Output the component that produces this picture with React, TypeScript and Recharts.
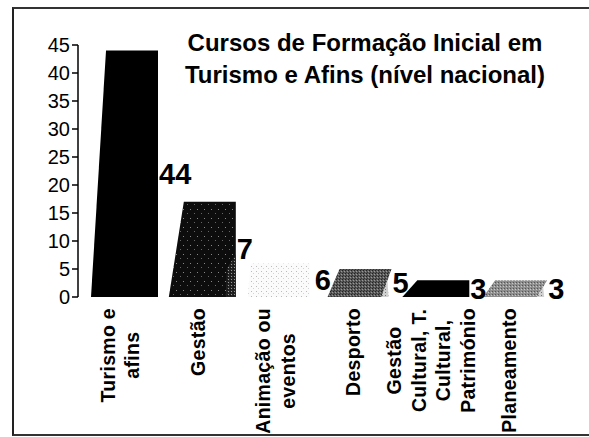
import { Bar, BarChart, LabelList, XAxis, YAxis } from 'recharts'

const categories = [
  'Turismo e\nafins',
  'Gestão',
  'Animação ou\neventos',
  'Desporto',
  'Gestão\nCultural, T.\nCultural,\nPatrimónio',
  'Planeamento',
]

const courseCounts = [44, 17, 6, 5, 3, 3]

// labels as printed next to each bar (the "1" of 17 sits behind the bar)
const valueLabels = ['44', '7', '6', '5', '3', '3']

const yTicks = [0, 5, 10, 15, 20, 25, 30, 35, 40, 45]

const data = categories.map((name, i) => ({
  name,
  count: courseCounts[i],
  label: valueLabels[i],
}))

const FONT = '"Liberation Sans", Arial, sans-serif'
const CAT_FONT_SIZE = 19.5
const CAT_SPACING = 0.3

// how each bar is drawn: shape type, fill pattern, lighter corner
const BAR_STYLES = [
  { kind: 'trap', fill: '#000', corner: null },
  { kind: 'trap', fill: 'url(#speckDark)', corner: 'url(#speckGrey)' },
  { kind: 'pale', fill: 'url(#speckLight)', corner: null },
  { kind: 'para', fill: 'url(#stippleMid)', corner: 'url(#speckPale)' },
  { kind: 'trap', fill: '#000', corner: null },
  { kind: 'para', fill: 'url(#stippleLight)', corner: 'url(#speckPale)' },
]

let measureCtx: CanvasRenderingContext2D | null = null
function measure(text: string): number {
  if (!measureCtx) {
    measureCtx = document.createElement('canvas').getContext('2d')
  }
  if (!measureCtx) return text.length * 10
  measureCtx.font = `bold ${CAT_FONT_SIZE}px ${FONT}`
  return measureCtx.measureText(text).width + text.length * CAT_SPACING
}

function BarShape(props: any) {
  const { x, y, width, height, index } = props
  const style = BAR_STYLES[index]
  const b = y + height
  if (style.kind === 'trap') {
    return (
      <g>
        <polygon
          points={`${x + 10},${b} ${x + 25},${y} ${x + 77},${y} ${x + 77},${b}`}
          fill={style.fill}
        />
        {style.corner && (
          <polygon
            points={`${x + 67},${b} ${x + 68},${y + height * 0.7} ${x + 77},${y + height * 0.55} ${x + 77},${b}`}
            fill={style.corner}
          />
        )}
      </g>
    )
  }
  if (style.kind === 'pale') {
    return (
      <polygon
        points={`${x + 11},${b} ${x + 14},${y} ${x + 73},${y} ${x + 73},${b}`}
        fill={style.fill}
      />
    )
  }
  return (
    <g>
      <polygon
        points={`${x + 13},${b} ${x + 25},${y} ${x + 77},${y} ${x + 67},${b}`}
        fill={style.fill}
      />
      <polygon
        points={`${x + 67},${b} ${x + 73},${y + height * 0.4} ${x + 74},${b}`}
        fill={style.corner}
      />
    </g>
  )
}

function ValueLabel(props: any) {
  const { x, y, height, value } = props
  return (
    <text
      x={x + 78}
      y={y + height / 2}
      dominantBaseline="central"
      fontFamily={FONT}
      fontWeight="bold"
      fontSize={29}
      fill="#000"
    >
      {value}
    </text>
  )
}

function CategoryTick(props: any) {
  const { x, y, payload } = props
  const lines: string[] = String(payload.value).split('\n')
  const maxW = Math.max(...lines.map(measure))
  const centerY = y + 3 + maxW / 2
  return (
    <g>
      {lines.map((line, j) => {
        const cx = x + (j - (lines.length - 1) / 2) * 24.5
        return (
          <text
            key={j}
            x={cx}
            y={centerY}
            transform={`rotate(-90, ${cx}, ${centerY})`}
            textAnchor="middle"
            dominantBaseline="central"
            fontFamily={FONT}
            fontWeight="bold"
            fontSize={CAT_FONT_SIZE}
            letterSpacing={CAT_SPACING}
            fill="#000"
          >
            {line}
          </text>
        )
      })}
    </g>
  )
}

export default function App() {
  return (
    <div style={{ position: 'relative', width: 589, height: 437, overflow: 'hidden', background: '#fff' }}>
      <style>{'body{margin:0}'}</style>
      <div
        style={{
          position: 'absolute',
          left: 12,
          top: 7,
          width: 620,
          height: 425,
          borderLeft: '2px solid #222',
          borderTop: '2px solid #333',
          borderBottom: '2px solid #333',
        }}
      />
      <BarChart
        width={589}
        height={437}
        data={data}
        margin={{ top: 45, right: 41, bottom: 10, left: 0 }}
        barCategoryGap={0}
        style={{ position: 'absolute', left: 0, top: 0 }}
      >
        <defs>
          <pattern id="speckDark" width="7" height="9" patternUnits="userSpaceOnUse">
            <rect width="7" height="9" fill="#0d0d0d" />
            <rect x="1" y="2" width="1" height="1" fill="#888" />
            <rect x="5" y="6" width="1" height="1" fill="#666" />
          </pattern>
          <pattern id="speckGrey" width="3" height="3" patternUnits="userSpaceOnUse">
            <rect width="3" height="3" fill="#222" />
            <rect x="0" y="0" width="1" height="1" fill="#999" />
            <rect x="2" y="1" width="1" height="1" fill="#111" />
          </pattern>
          <pattern id="speckLight" width="5" height="5" patternUnits="userSpaceOnUse">
            <rect width="5" height="5" fill="#fbfbfb" />
            <rect x="1" y="1" width="1" height="1" fill="#bbb" />
            <rect x="3" y="3" width="1" height="1" fill="#d4d4d4" />
          </pattern>
          <pattern id="stippleMid" width="3" height="3" patternUnits="userSpaceOnUse">
            <rect width="3" height="3" fill="#5a5a5a" />
            <rect x="0" y="0" width="1" height="1" fill="#222" />
            <rect x="2" y="1" width="1" height="1" fill="#999" />
            <rect x="1" y="2" width="1" height="1" fill="#333" />
          </pattern>
          <pattern id="stippleLight" width="3" height="3" patternUnits="userSpaceOnUse">
            <rect width="3" height="3" fill="#8e8e8e" />
            <rect x="0" y="0" width="1" height="1" fill="#555" />
            <rect x="2" y="1" width="1" height="1" fill="#c8c8c8" />
          </pattern>
          <pattern id="speckPale" width="3" height="3" patternUnits="userSpaceOnUse">
            <rect width="3" height="3" fill="#d0d0d0" />
            <rect x="1" y="1" width="1" height="1" fill="#777" />
          </pattern>
        </defs>
        <XAxis
          dataKey="name"
          axisLine={false}
          tickLine={false}
          interval={0}
          height={130}
          padding={{ left: 3, right: 0 }}
          tick={<CategoryTick />}
        />
        <YAxis
          domain={[0, 45]}
          ticks={yTicks}
          interval={0}
          width={78}
          axisLine={{ stroke: '#000', strokeWidth: 1.5 }}
          tickLine={{ stroke: '#000', strokeWidth: 1.5 }}
          tickSize={6}
          tickMargin={2}
          tick={{ fill: '#000', fontSize: 20, fontFamily: FONT }}
        />
        <Bar dataKey="count" isAnimationActive={false} shape={<BarShape />}>
          <LabelList dataKey="label" content={<ValueLabel />} />
        </Bar>
      </BarChart>
      <div
        style={{
          position: 'absolute',
          left: 140,
          top: 27,
          width: 450,
          textAlign: 'center',
          fontFamily: FONT,
          fontWeight: 'bold',
          fontSize: 24,
          lineHeight: '32px',
          color: '#000',
        }}
      >
        Cursos de Formação Inicial em
        <br />
        Turismo e Afins (nível nacional)
      </div>
    </div>
  )
}
